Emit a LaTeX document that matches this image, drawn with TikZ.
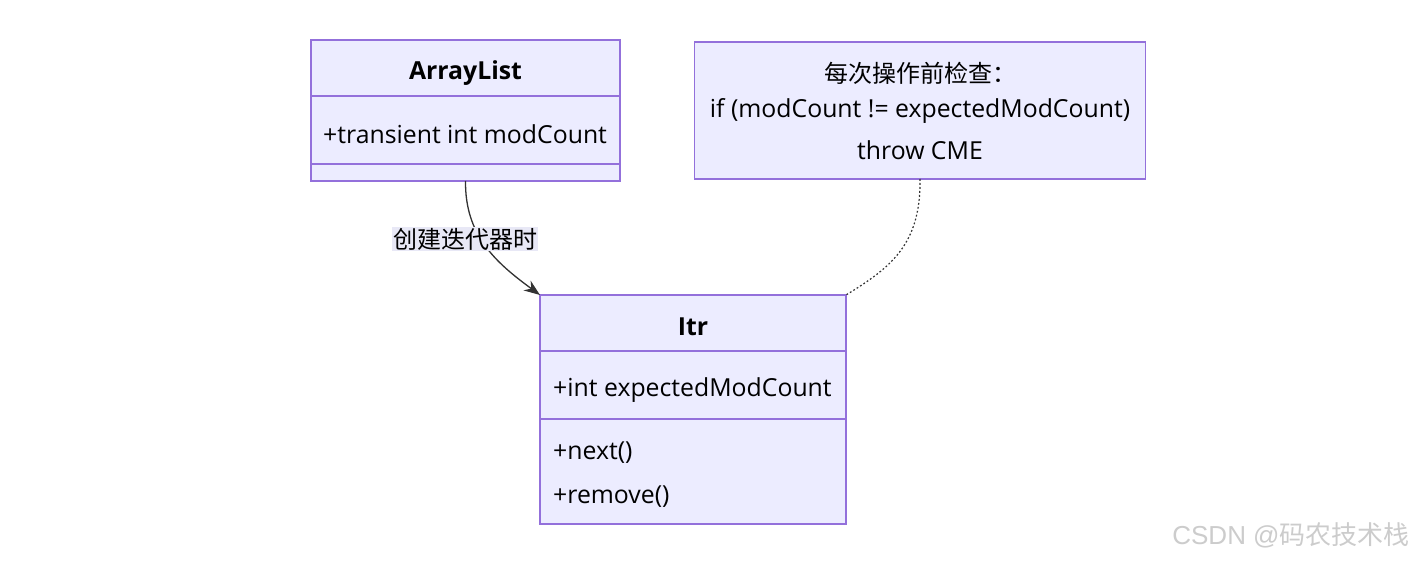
\documentclass[tikz,border=0pt]{standalone}
\usepackage{fontspec}
\setmainfont{Open Sans}
\newfontfamily\cjk{Noto Sans CJK SC}
\newfontfamily\wmfont{Liberation Sans}
\usetikzlibrary{arrows.meta}
\definecolor{boxfill}{HTML}{ECECFF}
\definecolor{boxline}{HTML}{9370DB}
\definecolor{edgecol}{HTML}{333333}
\definecolor{lblbg}{HTML}{E8E8F6}
\definecolor{wmcol}{HTML}{CCCCCC}
\begin{document}
\begin{tikzpicture}[x=1pt,y=-1pt,
  umlbox/.style={draw=boxline,fill=boxfill,line width=1.2pt,inner sep=0pt,outer sep=0pt,rectangle,anchor=north west},
  divider/.style={draw=boxline,line width=1.2pt},
  txt/.style={font=\fontsize{24.8}{28}\selectfont,text=black,inner sep=0pt},
  boldtxt/.style={txt,font=\fontsize{24.8}{28}\selectfont\bfseries},
  edgeline/.style={draw=edgecol,line width=1.3pt},
  dotline/.style={draw=edgecol,line width=1.2pt,dash pattern=on 1.8pt off 2.2pt}]
\useasboundingbox (0,0) rectangle (1416,561);
\fill[white] (0,0) rectangle (1416,561);

% ArrayList
\node[umlbox,minimum width=309pt,minimum height=141pt] (al) at (311,40) {};
\draw[divider] (311,96) -- (620,96);
\draw[divider] (311,164) -- (620,164);
\node[boldtxt] (alname) at (465.5,73) {ArrayList};
\node[txt,anchor=west] (alattr) at (323,134) {+transient int modCount};

% Note
\node[umlbox,minimum width=451pt,minimum height=137pt] (note) at (694.5,42) {};
\node[txt,font=\fontsize{24}{28}\selectfont] (n1) at (920,73) {{\cjk 每次操作前检查：}};
\node[txt] (n2) at (920,111) {if (modCount != expectedModCount)};
\node[txt] (n3) at (920,150) {throw CME};

% Itr
\node[umlbox,minimum width=306pt,minimum height=229pt] (itr) at (540,295) {};
\draw[divider] (540,351) -- (846,351);
\draw[divider] (540,419) -- (846,419);
\node[boldtxt] (itrname) at (693,327) {Itr};
\node[txt,anchor=west] (itrattr) at (553,390) {+int expectedModCount};
\node[txt,anchor=west] (m1) at (553,453) {+next()};
\node[txt,anchor=west] (m2) at (553,497) {+remove()};

% edges
\draw[edgeline,-{Stealth[length=16pt,width=12pt]}] (al.south) .. controls (465,235) and (495,262) .. (itr.north west);
\node[fill=lblbg,inner sep=1pt,font=\fontsize{24}{28}\selectfont\cjk,text=black] (lbl) at (465,239) {创建迭代器时};
\draw[dotline] (note.south) .. controls (921,245) and (890,268) .. (itr.north east);

% watermark
\node[font=\fontsize{26}{30}\selectfont\wmfont,text=wmcol,inner sep=0pt] (wm) at (1291,535) {CSDN @{\cjk 码农技术栈}};
\end{tikzpicture}
\end{document}
